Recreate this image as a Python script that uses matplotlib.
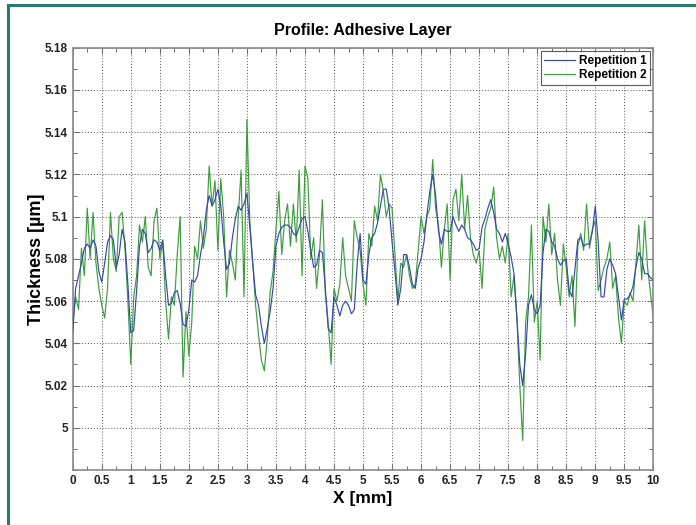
import numpy as np
import matplotlib
matplotlib.use("Agg")
import matplotlib.pyplot as plt
from matplotlib.ticker import FuncFormatter, MultipleLocator
from matplotlib.lines import Line2D

step = 0.05
rep1 = [
 5.045, 5.066, 5.072, 5.078, 5.085, 5.087, 5.085, 5.089, 5.086, 5.074,
 5.069, 5.078, 5.088, 5.091, 5.089, 5.076, 5.082, 5.094, 5.088, 5.068,
 5.045, 5.046, 5.065, 5.086, 5.094, 5.092, 5.083, 5.085, 5.089, 5.088,
 5.084, 5.089, 5.072, 5.058, 5.059, 5.064, 5.065, 5.059, 5.049, 5.048,
 5.056, 5.070, 5.069, 5.072, 5.082, 5.090, 5.103, 5.110, 5.105, 5.108,
 5.113, 5.105, 5.088, 5.075, 5.078, 5.090, 5.099, 5.105, 5.103, 5.106,
 5.111, 5.095, 5.078, 5.063, 5.058, 5.048, 5.040, 5.047, 5.055, 5.066,
 5.086, 5.092, 5.095, 5.096, 5.096, 5.095, 5.092, 5.091, 5.095, 5.099,
 5.100, 5.093, 5.084, 5.076, 5.077, 5.084, 5.083, 5.066, 5.047, 5.045,
 5.062, 5.058, 5.053, 5.058, 5.060, 5.058, 5.054, 5.056, 5.078, 5.092,
 5.070, 5.068, 5.082, 5.090, 5.092, 5.097, 5.105, 5.113, 5.113, 5.104,
 5.088, 5.074, 5.058, 5.066, 5.082, 5.082, 5.076, 5.068, 5.066, 5.076,
 5.080, 5.088, 5.101, 5.112, 5.120, 5.110, 5.093, 5.087, 5.094, 5.093,
 5.093, 5.100, 5.096, 5.093, 5.096, 5.094, 5.090, 5.089, 5.087, 5.084,
 5.085, 5.095, 5.099, 5.104, 5.108, 5.102, 5.094, 5.092, 5.088, 5.092,
 5.087, 5.081, 5.073, 5.052, 5.030, 5.020, 5.035, 5.058, 5.063, 5.056,
 5.054, 5.058, 5.083, 5.094, 5.093, 5.088, 5.086, 5.080, 5.077, 5.079,
 5.080, 5.065, 5.062, 5.075, 5.089, 5.090, 5.086, 5.087, 5.087, 5.093,
 5.105, 5.088, 5.062, 5.062, 5.075, 5.080, 5.077, 5.073, 5.062, 5.051,
 5.061, 5.061, 5.063, 5.067, 5.076, 5.083, 5.080, 5.073, 5.073, 5.071,
 5.070]

rep2 = [
 5.050, 5.062, 5.056, 5.085, 5.072, 5.104, 5.080, 5.102, 5.078, 5.066,
 5.058, 5.052, 5.066, 5.102, 5.080, 5.074, 5.100, 5.102, 5.085, 5.060,
 5.030, 5.062, 5.072, 5.096, 5.088, 5.100, 5.076, 5.072, 5.098, 5.104,
 5.080, 5.088, 5.060, 5.042, 5.062, 5.058, 5.082, 5.100, 5.024, 5.055,
 5.034, 5.050, 5.086, 5.080, 5.098, 5.085, 5.094, 5.124, 5.105, 5.117,
 5.084, 5.118, 5.100, 5.062, 5.084, 5.078, 5.070, 5.100, 5.122, 5.062,
 5.146, 5.098, 5.078, 5.058, 5.044, 5.032, 5.027, 5.042, 5.064, 5.074,
 5.094, 5.112, 5.082, 5.098, 5.106, 5.086, 5.106, 5.088, 5.122, 5.072,
 5.124, 5.118, 5.080, 5.090, 5.066, 5.082, 5.108, 5.064, 5.050, 5.030,
 5.066, 5.060, 5.068, 5.090, 5.072, 5.066, 5.060, 5.098, 5.090, 5.084,
 5.068, 5.058, 5.092, 5.086, 5.105, 5.098, 5.120, 5.112, 5.100, 5.106,
 5.104, 5.082, 5.060, 5.078, 5.076, 5.082, 5.072, 5.066, 5.068, 5.084,
 5.100, 5.092, 5.100, 5.104, 5.127, 5.104, 5.096, 5.076, 5.094, 5.106,
 5.070, 5.108, 5.113, 5.098, 5.120, 5.094, 5.110, 5.090, 5.082, 5.078,
 5.084, 5.066, 5.094, 5.100, 5.104, 5.114, 5.090, 5.080, 5.086, 5.078,
 5.092, 5.062, 5.072, 5.052, 5.020, 4.994, 5.050, 5.062, 5.096, 5.050,
 5.060, 5.032, 5.100, 5.088, 5.106, 5.082, 5.092, 5.070, 5.058, 5.087,
 5.076, 5.062, 5.072, 5.048, 5.086, 5.092, 5.084, 5.106, 5.085, 5.094,
 5.098, 5.065, 5.070, 5.076, 5.080, 5.088, 5.066, 5.072, 5.052, 5.040,
 5.060, 5.058, 5.064, 5.060, 5.078, 5.096, 5.070, 5.098, 5.076, 5.064,
 5.052]

x1 = np.arange(len(rep1)) * step
x2 = np.arange(len(rep2)) * step

xticks = np.arange(0, 10.01, 0.5)
yticks = [5.00, 5.02, 5.04, 5.06, 5.08, 5.10, 5.12, 5.14, 5.16, 5.18]

plt.rcParams['font.family'] = ['Liberation Sans', 'DejaVu Sans']

fig = plt.figure(figsize=(6.96, 5.25), dpi=100)
fig.patch.set_facecolor('white')
ax = fig.add_axes([0.1045, 0.1048, 0.8342, 0.8043])

ax.plot(x2, rep2, color='#3d9c3d', lw=0.85, label='Repetition 2', zorder=2)
ax.plot(x1, rep1, color='#3848aa', lw=0.85, label='Repetition 1', zorder=3)

ax.set_xlim(0, 10)
ax.set_ylim(4.98, 5.18)
ax.set_xticks(xticks)
ax.set_yticks(yticks)
ax.xaxis.set_minor_locator(MultipleLocator(0.25))
ax.yaxis.set_minor_locator(MultipleLocator(0.01))
fmt = FuncFormatter(lambda v, p: '%g' % round(v, 4))
ax.xaxis.set_major_formatter(fmt)
ax.yaxis.set_major_formatter(fmt)
ax.tick_params(which='both', direction='in', top=True, right=True,
               color='#707070', labelsize=8.5, labelcolor='#222222')
ax.tick_params(which='major', length=4, width=0.8)
ax.tick_params(which='minor', length=3, width=0.7)
for lab in ax.get_xticklabels() + ax.get_yticklabels():
    lab.set_fontweight('bold')
ax.grid(True, which='major', linestyle=(0, (1, 2)), color='#555555', lw=0.7)
for s in ax.spines.values():
    s.set_color('#8a8a8a')
    s.set_linewidth(1.2)

ax.set_title('Profile: Adhesive Layer', fontsize=11.5, fontweight='bold', pad=9)
ax.set_xlabel('X [mm]', fontsize=12.5, fontweight='bold', labelpad=3)
ax.set_ylabel('Thickness [µm]', fontsize=13, fontweight='bold', labelpad=0)

h, l = ax.get_legend_handles_labels()
leg = ax.legend(h[::-1], l[::-1], loc='upper right',
                prop={'weight': 'bold', 'size': 8.5}, frameon=True, fancybox=False,
                edgecolor='#333333', borderpad=0.3, handlelength=2.6,
                handletextpad=0.3, labelspacing=0.2, borderaxespad=0.3)
leg.get_frame().set_linewidth(0.8)

# teal frame around the figure
fw, fh = 696.0, 525.0
fig.add_artist(Line2D([8 / fw, 1.0], [1 - 5 / fh, 1 - 5 / fh], transform=fig.transFigure,
                      color='#2a7a6c', lw=2.2))
fig.add_artist(Line2D([8 / fw, 8 / fw], [0.0, 1 - 5 / fh], transform=fig.transFigure,
                      color='#2a7a6c', lw=2.2))

fig.savefig('out.png', dpi=100, facecolor='white')
